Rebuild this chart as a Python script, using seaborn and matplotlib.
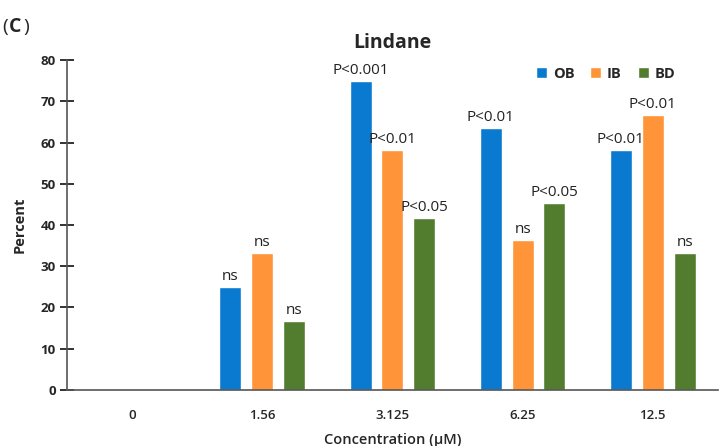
import matplotlib
matplotlib.use("Agg")
import matplotlib.pyplot as plt
import seaborn as sns
import pandas as pd

categories = ["0", "1.56", "3.125", "6.25", "12.5"]
series = ["OB", "IB", "BD"]
ob_values = [0, 25.0, 75.0, 63.5, 58.3]
ib_values = [0, 33.3, 58.3, 36.4, 66.7]
bd_values = [0, 16.7, 41.7, 45.4, 33.3]
ob_labels = ["", "ns", "P<0.001", "P<0.01", "P<0.01"]
ib_labels = ["", "ns", "P<0.01", "ns", "P<0.01"]
bd_labels = ["", "ns", "P<0.05", "P<0.05", "ns"]
colors = ["#0A7AD1", "#FF9538", "#537D2E"]

rows = []
for s, vals in zip(series, [ob_values, ib_values, bd_values]):
    for c, v in zip(categories, vals):
        rows.append({"Concentration": c, "Group": s, "Percent": v})
df = pd.DataFrame(rows)

sns.set_style("ticks")
plt.rcParams['font.family'] = ['Open Sans', 'DejaVu Sans']

fig = plt.figure(figsize=(7.2, 4.46), dpi=100)
ax = fig.add_axes([0.093, 0.126, 0.904, 0.739])

sns.barplot(data=df, x="Concentration", y="Percent", hue="Group",
            order=categories, hue_order=series, palette=colors,
            width=0.735, gap=0.31, ax=ax, legend=True, saturation=1)

labels_all = [ob_labels, ib_labels, bd_labels]
for cont, labs in zip(ax.containers, labels_all):
    ax.bar_label(cont, labels=labs, padding=2, fontsize=11, color="#222222")

ax.set_ylim(0, 80)
ax.set_xlim(-0.5, 4.5)
ax.set_yticks(range(0, 81, 10))
ax.tick_params(axis="x", bottom=False, length=0, labelsize=9.5, pad=14)
ax.tick_params(axis="y", left=True, direction="inout", length=10,
               width=1.4, color="#333333", labelsize=9.5, pad=3)
for lab in ax.get_yticklabels():
    lab.set_fontweight("bold")
for lab in ax.get_xticklabels():
    lab.set_fontweight("semibold")

ax.set_ylabel("Percent", fontsize=10.5, fontweight="bold", labelpad=10)
ax.set_xlabel("Concentration (µM)", fontsize=10.5, fontweight="semibold", labelpad=8)

for side in ["top", "right"]:
    ax.spines[side].set_visible(False)
for side in ["left", "bottom"]:
    ax.spines[side].set_color("#555555")
    ax.spines[side].set_linewidth(1.2)

ax.set_title("Lindane", fontsize=14, fontweight="bold", pad=9, x=0.5)

leg = ax.legend(loc="upper right", bbox_to_anchor=(0.955, 1.02), ncol=3, frameon=False,
                handlelength=0.75, handleheight=0.75, columnspacing=1.1, handletextpad=0.4,
                prop={"weight": "bold", "size": 10.5})

fig.text(0.003, 0.94, "(", fontsize=14, va="center")
fig.text(0.013, 0.94, "C", fontsize=14, fontweight="bold", va="center")
fig.text(0.032, 0.94, ")", fontsize=14, va="center")

fig.savefig("out.png", dpi=100, facecolor="white")
